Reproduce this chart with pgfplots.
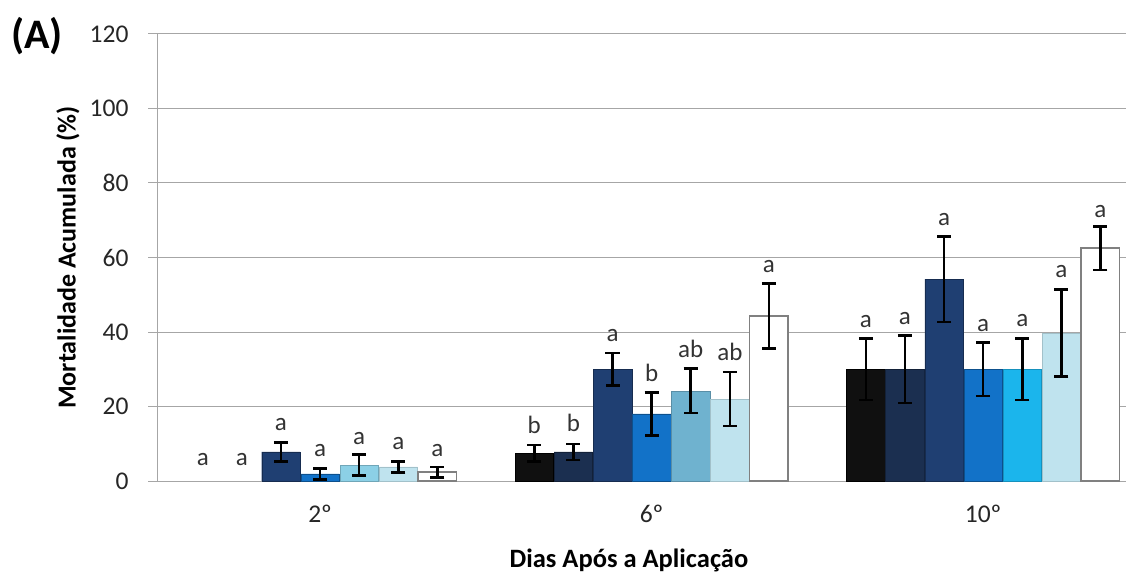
\documentclass[border=0pt]{standalone}
\usepackage{pgfplots}
\pgfplotsset{compat=1.18}
\usepackage{fontspec}
\setmainfont{Carlito}
\definecolor{c1}{HTML}{101010}
\definecolor{c2}{HTML}{1B2F50}
\definecolor{c3}{HTML}{1F3F72}
\definecolor{c4}{HTML}{1272C8}
\definecolor{c5a}{HTML}{8CD0E6}
\definecolor{c5b}{HTML}{6FB2CF}
\definecolor{c5c}{HTML}{1BB5EC}
\definecolor{c6}{HTML}{BFE3EE}
\definecolor{gridc}{HTML}{A6A6A6}
\begin{document}
\begin{tikzpicture}
\useasboundingbox (0,0) rectangle (1126pt,581pt);
\begin{axis}[
  at={(157pt,100pt)}, anchor=south west,
  scale only axis, width=969pt, height=447pt,
  xmin=-0.492, xmax=2.431, ymin=0, ymax=120,
  ytick={0,20,...,120},
  xtick={0,1,2}, xticklabels={2º,6º,10º},
  axis x line=bottom, axis y line=left,
  axis line style={-, draw=gridc, line width=1pt},
  ymajorgrids, grid style={draw=gridc, line width=1pt},
  tick align=outside, major tick length=9pt,
  ytick style={draw=gridc, line width=1pt},
  xtick style={draw=none},
  tick label style={font=\fontsize{25.5}{25.5}\selectfont, text=black!85},
  /pgf/number format/assume math mode=true,
  xticklabel style={yshift=-12pt},
  yticklabel style={xshift=-16pt},
  ylabel={\bfseries Mortalidade Acumulada (\%)},
  ylabel style={at={(axis description cs:-0.092,0.5)}, anchor=center, font=\fontsize{26}{26}\selectfont},
  xlabel={\bfseries Dias Após a Aplicação},
  xlabel style={at={(axis description cs:0.487,-0.177)}, anchor=center, font=\fontsize{26.5}{26.5}\selectfont},
  clip=false,
  every axis plot/.append style={
    error bars/y dir=both, error bars/y explicit,
    error bars/error bar style={line width=2.5pt, black},
    error bars/error mark options={line width=2.5pt, black, mark size=7pt, rotate=90},
  },
]
\addplot[ybar, bar shift=0pt, bar width=38.5pt, fill=c1, draw=black] coordinates {
  (0.646,7.5) +- (0,2.2)
  (1.646,30) +- (0,8.2)
};
\addplot[ybar, bar shift=0pt, bar width=38.5pt, fill=c2, draw=c2!70!black] coordinates {
  (0.764,7.8) +- (0,2.2)
  (1.764,30) +- (0,9)
};
\addplot[ybar, bar shift=0pt, bar width=38.5pt, fill=c3, draw=c3!70!black] coordinates {
  (-0.118,7.8) +- (0,2.6)
  (0.882,30) +- (0,4.4)
  (1.882,54.2) +- (0,11.5)
};
\addplot[ybar, bar shift=0pt, bar width=38.5pt, fill=c4, draw=c4!70!black] coordinates {
  (0,1.9) +- (0,1.5)
  (1,18) +- (0,5.8)
  (2,30) +- (0,7.2)
};
\addplot[ybar, bar shift=0pt, bar width=38.5pt, fill=c5a, draw=c5a!80!black] coordinates {
  (0.118,4.3) +- (0,2.8)
};
\addplot[ybar, bar shift=0pt, bar width=38.5pt, fill=c5b, draw=c5b!80!black] coordinates {
  (1.118,24.2) +- (0,6)
};
\addplot[ybar, bar shift=0pt, bar width=38.5pt, fill=c5c, draw=c5c!80!black] coordinates {
  (2.118,30) +- (0,8.3)
};
\addplot[ybar, bar shift=0pt, bar width=38.5pt, fill=c6, draw=c6!85!black] coordinates {
  (0.236,3.8) +- (0,1.5)
  (1.236,22) +- (0,7.2)
  (2.236,39.7) +- (0,11.7)
};
\addplot[ybar, bar shift=0pt, bar width=38.5pt, fill=white, draw=gray, line width=1.5pt] coordinates {
  (0.354,2.4) +- (0,1.4)
  (1.354,44.3) +- (0,8.7)
  (2.354,62.5) +- (0,5.8)
};
\addplot[draw=none, error bars/y dir=none, nodes near coords, point meta=explicit symbolic,
  nodes near coords style={anchor=south, inner sep=1pt, yshift=10pt, font=\fontsize{25}{25}\selectfont, text=black!80}]
  table[meta=l] {
x y l
-0.354 1 a
-0.236 1 a
-0.118 10.5 a
0 3.5 a
0.118 6.8 a
0.236 5.4 a
0.354 3.5 a
0.646 9.7 b
0.764 10.2 b
0.882 34.4 a
1 23.6 b
1.118 30 ab
1.236 29.2 ab
1.354 52.8 a
1.646 38.1 a
1.764 38.9 a
1.882 65.5 a
2 37 a
2.118 38.4 a
2.236 51.5 a
2.354 67.6 a
};
\end{axis}
\node[font=\bfseries\fontsize{42}{42}\selectfont] at (37pt,545pt) {(A)};
\end{tikzpicture}
\end{document}
